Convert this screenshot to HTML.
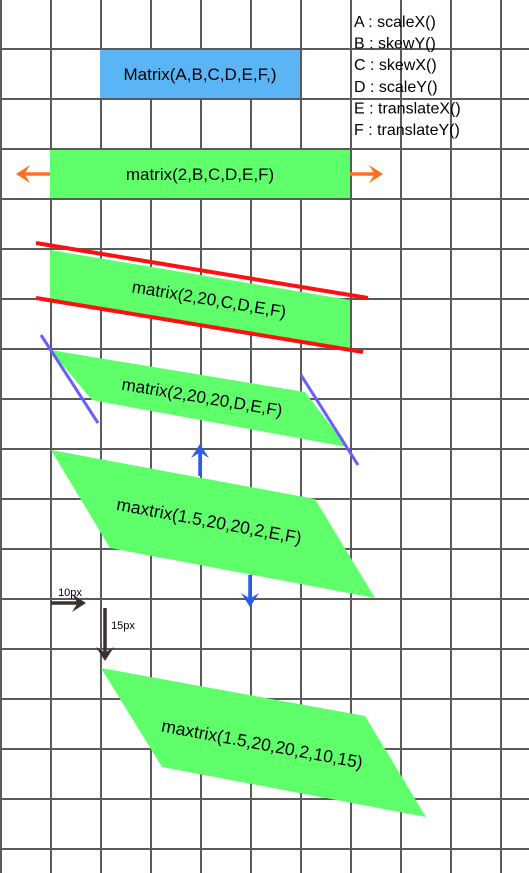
<!DOCTYPE html>
<html><head><meta charset="utf-8"><style>
html,body{margin:0;padding:0;background:#fff;}
svg{display:block;}
text{font-family:"Liberation Sans",Arial,sans-serif;fill:#000;}
</style></head><body>
<svg id="c" width="529" height="873" viewBox="0 0 529 873" xmlns="http://www.w3.org/2000/svg">
<g id="grid"></g>
<g id="shapes"></g>
<g id="legend"></g>
</svg>
<script>
const gridXs = [1,51,101,151,201,251,301,351,401,451,501];
const gridYs = [49,99,149,199,249,299,349,399,449,499,549,599,649,699,749,799,849];
const shapePolys = [
  {name:'matrix-identity-rect', fill:'#5ab4f5', pts:[[100,50],[300,50],[300,98],[100,98]]},
  {name:'scale-x-rect', fill:'#5eff6a', pts:[[50,150],[350,150],[350,198],[50,198]]},
  {name:'skew-y-shape', fill:'#5eff6a', pts:[[50,250],[350,300],[350,350],[50,300]]},
  {name:'skew-x-shape', fill:'#5eff6a', pts:[[50,350],[305,392],[347,447],[92,400]]},
  {name:'scale-y-shape', fill:'#5eff6a', pts:[[51,450],[315,499],[375,598],[110,548]]},
  {name:'translate-shape', fill:'#5eff6a', pts:[[101,668],[365,716],[426,817],[162,767]]}
];
const guideLines = [
  {name:'skew-y-line-top', c:'#ff1010', w:4, p:[36,243,368,298]},
  {name:'skew-y-line-bottom', c:'#ff1010', w:4, p:[36,298,363,352]},
  {name:'skew-x-line-left', c:'#6a5cff', w:3, p:[41,335,98,423]},
  {name:'skew-x-line-right', c:'#6a5cff', w:3, p:[301,375,358,465]}
];
const arrows = [
  {name:'scale-x-arrow-left', c:'#ff7020', w:3, p:[50,174,16,174]},
  {name:'scale-x-arrow-right', c:'#ff7020', w:3, p:[350,174,383,174]},
  {name:'scale-y-arrow-up', c:'#2a5de8', w:3, p:[200,476,200,444]},
  {name:'scale-y-arrow-down', c:'#2a5de8', w:3, p:[250,575,250,607]},
  {name:'translate-x-arrow', c:'#3d3030', w:3, p:[51,603,86,603]},
  {name:'translate-y-arrow', c:'#3d3030', w:3, p:[105,608,105,661]}
];
const labels = [
  {name:'matrix-label', t:'Matrix(A,B,C,D,E,F,)', x:200, y:80, r:0, s:17},
  {name:'scale-x-label', t:'matrix(2,B,C,D,E,F)', x:200, y:180, r:0, s:17},
  {name:'skew-y-label', t:'matrix(2,20,C,D,E,F)', x:209, y:305, r:9.5, s:17},
  {name:'skew-x-label', t:'matrix(2,20,20,D,E,F)', x:202, y:403, r:9.5, s:17},
  {name:'scale-y-label', t:'maxtrix(1.5,20,20,2,E,F)', x:209, y:527, r:10.5, s:17.5},
  {name:'translate-label', t:'maxtrix(1.5,20,20,2,10,15)', x:262, y:750, r:10.5, s:17.5},
  {name:'ten-px-label', t:'10px', x:70, y:596, r:0, s:11},
  {name:'fifteen-px-label', t:'15px', x:123, y:629, r:0, s:11}
];
const legendItems = ['A : scaleX()','B : skewY()','C : skewX()','D : scaleY()','E : translateX()','F : translateY()'];

const NS='http://www.w3.org/2000/svg';
function mk(tag, attrs, parent){const e=document.createElementNS(NS,tag);for(const k in attrs)e.setAttribute(k,attrs[k]);parent.appendChild(e);return e;}
const grid=document.getElementById('grid'), shapes=document.getElementById('shapes'), legend=document.getElementById('legend');

gridXs.forEach(x=>{const l=mk('line',{x1:x,y1:0,x2:x,y2:873,stroke:'#5a5a5a','stroke-width':2},grid);

});
gridYs.forEach(y=>{const l=mk('line',{x1:0,y1:y,x2:529,y2:y,stroke:'#5a5a5a','stroke-width':2},grid);

});

shapePolys.forEach(s=>{const p=mk('polygon',{points:s.pts.map(q=>q.join(',')).join(' '),fill:s.fill},shapes);

});

guideLines.forEach(g=>{const l=mk('line',{x1:g.p[0],y1:g.p[1],x2:g.p[2],y2:g.p[3],stroke:g.c,'stroke-width':g.w},shapes);

});

arrows.forEach(a=>{const g=mk('g',{},shapes);


const [x1,y1,x2,y2]=a.p;const ang=Math.atan2(y2-y1,x2-x1);const L=14,W=9;
const c=Math.cos(ang), s=Math.sin(ang);
const bx=x2-L*c, by=y2-L*s;
mk('line',{x1:x1,y1:y1,x2:x2-6*c,y2:y2-6*s,stroke:a.c,'stroke-width':a.w+0.5},g);
const px=-s, py=c;
const nx=x2-0.6*L*c, ny=y2-0.6*L*s;
mk('polygon',{points:`${x2},${y2} ${bx+W*px},${by+W*py} ${nx},${ny} ${bx-W*px},${by-W*py}`,fill:a.c},g);});

labels.forEach(l=>{const t=mk('text',{x:l.x,y:l.y,'text-anchor':'middle','font-size':l.s,transform:`rotate(${l.r} ${l.x} ${l.y-5})`},shapes);
t.textContent=l.t;

});

legendItems.forEach((s,i)=>{const t=mk('text',{x:354,y:27+i*21.6,'font-size':16},legend);
t.textContent=s;

});
</script>
</body></html>
